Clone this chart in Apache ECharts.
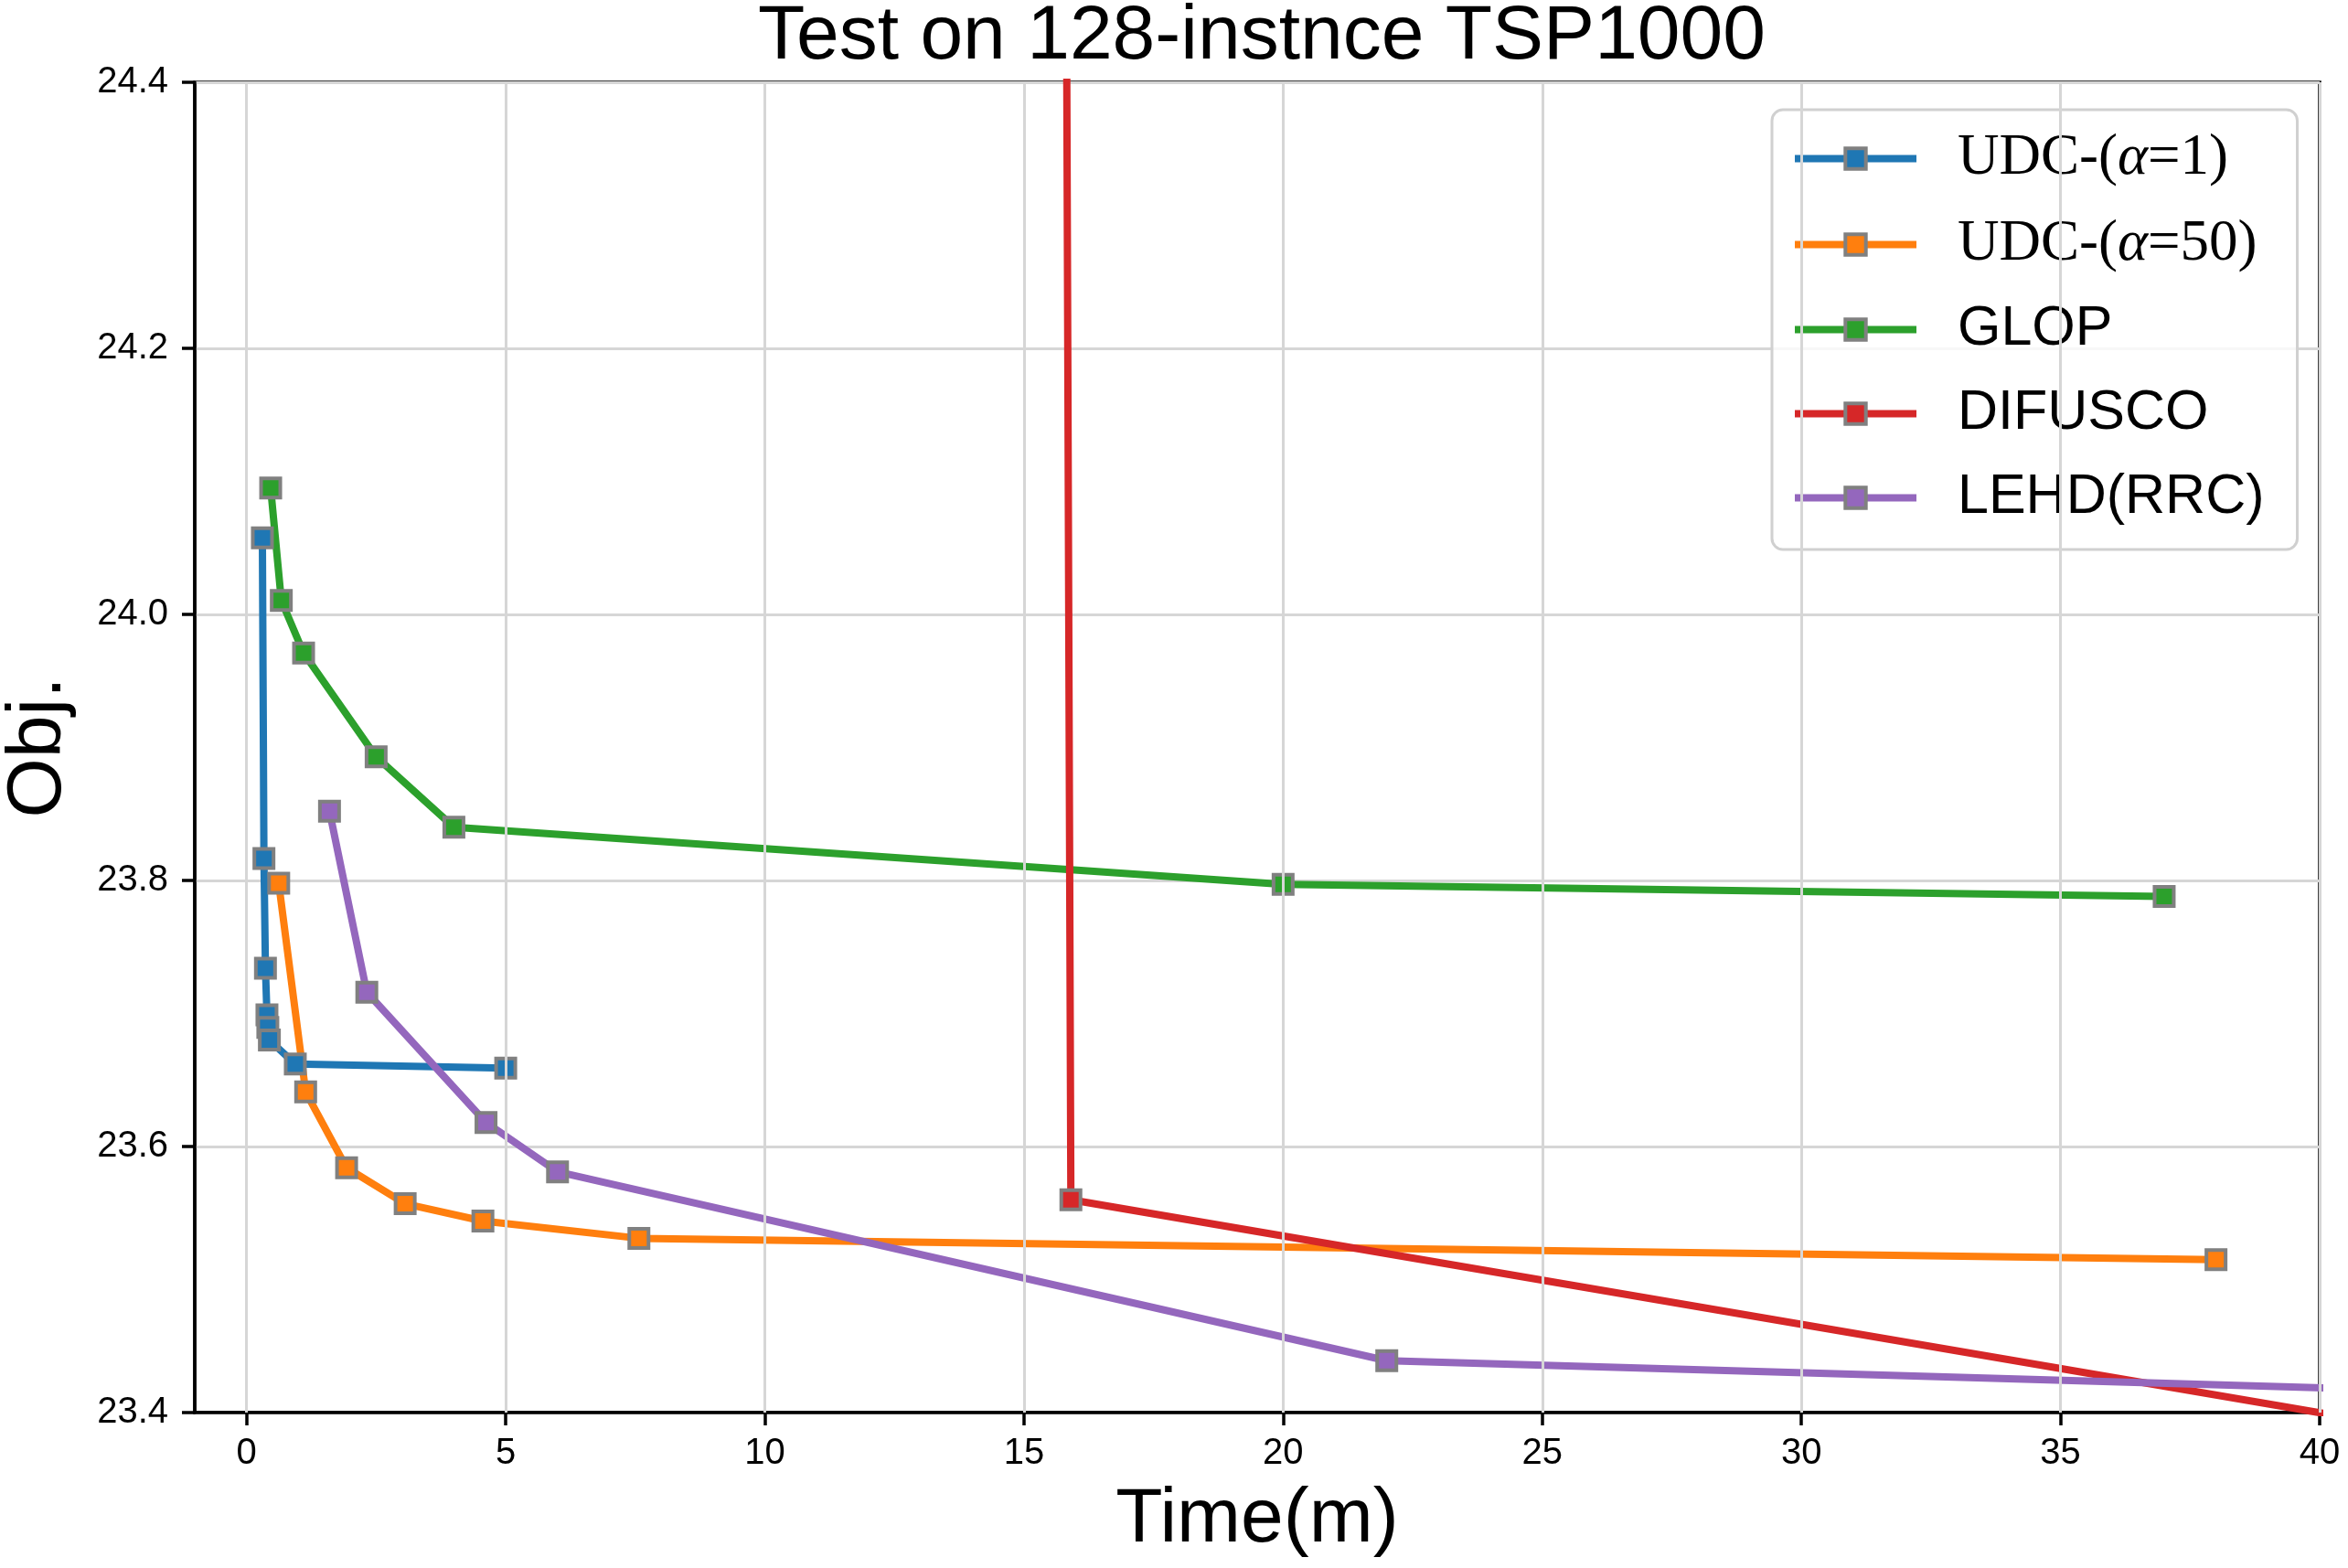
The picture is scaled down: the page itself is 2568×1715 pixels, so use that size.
<!DOCTYPE html>
<html>
<head>
<meta charset="utf-8">
<script src="https://cdn.jsdelivr.net/npm/echarts@6/dist/echarts.min.js"></script>
<style>
  html, body { margin: 0; padding: 0; background: #fff; }
  #main { width: 2568px; height: 1715px; }
</style>
</head>
<body>
<div id="main"></div>
<script>
// data (time in minutes, objective)
const udc1Time = [0.305, 0.335, 0.364, 0.393, 0.41, 0.44, 0.94, 5.0];
const udc1Obj = [24.0575, 23.8165, 23.734, 23.699, 23.6895, 23.680, 23.662, 23.659];

const udc50Time = [0.62, 1.14, 1.93, 3.06, 4.56, 7.57, 38.0];
const udc50Obj = [23.798, 23.641, 23.584, 23.557, 23.544, 23.531, 23.515];

const glopTime = [0.465, 0.67, 1.10, 2.50, 4.0, 20.0, 37.0];
const glopObj = [24.095, 24.0105, 23.971, 23.893, 23.840, 23.797, 23.788];

// first and last points fall outside the visible window
const difuscoTime = [15.77, 15.905, 60.0];
const difuscoObj = [25.0, 23.560, 23.267];

const lehdTime = [1.60, 2.32, 4.62, 6.0, 22.0, 60.0];
const lehdObj = [23.852, 23.716, 23.618, 23.581, 23.439, 23.396];

const seriesNames = ['UDC-(α=1)', 'UDC-(α=50)', 'GLOP', 'DIFUSCO', 'LEHD(RRC)'];
const seriesColors = ['#1f77b4', '#ff7f0e', '#2ca02c', '#d62728', '#9467bd'];
const xTicks = [0, 5, 10, 15, 20, 25, 30, 35, 40];

const SANS = '"Liberation Sans", Arial, Helvetica, sans-serif';
const SERIF = '"Liberation Serif", "Times New Roman", serif';

const zip = (xs, ys) => xs.map((x, i) => [x, ys[i]]);
const allData = [
  zip(udc1Time, udc1Obj),
  zip(udc50Time, udc50Obj),
  zip(glopTime, glopObj),
  zip(difuscoTime, difuscoObj),
  zip(lehdTime, lehdObj)
];

const lineSeries = seriesNames.map((name, i) => ({
  name: name,
  type: 'line',
  data: allData[i],
  symbol: 'rect',
  symbolSize: 21,
  z: 3,
  clip: true,
  lineStyle: { width: 8, color: seriesColors[i] },
  itemStyle: { color: seriesColors[i], borderColor: '#808080', borderWidth: 4 },
  emphasis: { disabled: true }
}));

// vertical grid lines at the tick positions
const gridSeries = {
  name: 'xgrid',
  type: 'line',
  data: [],
  z: 1,
  silent: true,
  markLine: {
    silent: true,
    symbol: ['none', 'none'],
    label: { show: false },
    lineStyle: { color: '#d6d6d6', width: 3, type: 'solid' },
    data: xTicks.map(v => ({ xAxis: v }))
  }
};

const chart = echarts.init(document.getElementById('main'));

chart.setOption({
  animation: false,
  backgroundColor: '#fff',
  title: {
    text: 'Test on 128-instnce TSP1000',
    left: 1375,
    textAlign: 'center',
    top: -6,
    textStyle: { fontFamily: SANS, fontSize: 84, fontWeight: 'normal', color: '#000' }
  },
  grid: {
    left: 213, right: 31, top: 90, bottom: 170,
    outerBoundsMode: 'none',
    containLabel: false,
    show: true, borderColor: '#000', borderWidth: 3.5, backgroundColor: 'transparent'
  },
  legend: {
    data: seriesNames,
    orient: 'vertical',
    left: 1938,
    top: 120,
    padding: [22, 36, 26, 21],
    itemGap: 31,
    itemWidth: 133,
    itemHeight: 28,
    backgroundColor: 'rgba(255,255,255,0.8)',
    borderColor: '#d0d0d0',
    borderWidth: 3,
    borderRadius: 12,
    itemStyle: { borderColor: '#808080', borderWidth: 4 },
    lineStyle: { width: 8 },
    formatter: function (name) {
      if (name === 'UDC-(α=1)') return '{s|UDC-(}{i|α}{s|=1)}';
      if (name === 'UDC-(α=50)') return '{s|UDC-(}{i|α}{s|=50)}';
      return '{n|' + name + '}';
    },
    textStyle: {
      padding: [0, 0, 0, 40],
      rich: {
        s: { fontFamily: SERIF, fontSize: 63, color: '#000', lineHeight: 60 },
        i: { fontFamily: SERIF, fontStyle: 'italic', fontSize: 63, color: '#000', lineHeight: 60 },
        n: { fontFamily: SANS, fontSize: 61, color: '#000', lineHeight: 60 }
      }
    }
  },
  xAxis: {
    type: 'value',
    min: -1,
    max: 40,
    name: 'Time(m)',
    nameLocation: 'middle',
    nameGap: 76,
    nameTextStyle: { fontFamily: SANS, fontSize: 84, color: '#000' },
    axisLine: { show: true, onZero: false, lineStyle: { color: '#000', width: 3.5 } },
    axisTick: { show: true, length: 14, lineStyle: { color: '#000', width: 3.5 }, customValues: xTicks },
    axisLabel: { fontFamily: SANS, fontSize: 40, color: '#000', margin: 25, customValues: xTicks },
    splitLine: { show: false }
  },
  yAxis: {
    type: 'value',
    min: 23.4,
    max: 24.4,
    interval: 0.2,
    name: 'Obj.',
    nameLocation: 'middle',
    nameGap: 128,
    nameTextStyle: { fontFamily: SANS, fontSize: 84, color: '#000' },
    axisLine: { show: true, onZero: false, lineStyle: { color: '#000', width: 3.5 } },
    axisTick: { show: true, length: 14, lineStyle: { color: '#000', width: 3.5 } },
    axisLabel: {
      fontFamily: SANS, fontSize: 40, color: '#000', margin: 29,
      formatter: v => v.toFixed(1)
    },
    splitLine: { show: true, lineStyle: { color: '#d6d6d6', width: 3 } }
  },
  series: [gridSeries].concat(lineSeries)
});
</script>
</body>
</html>
